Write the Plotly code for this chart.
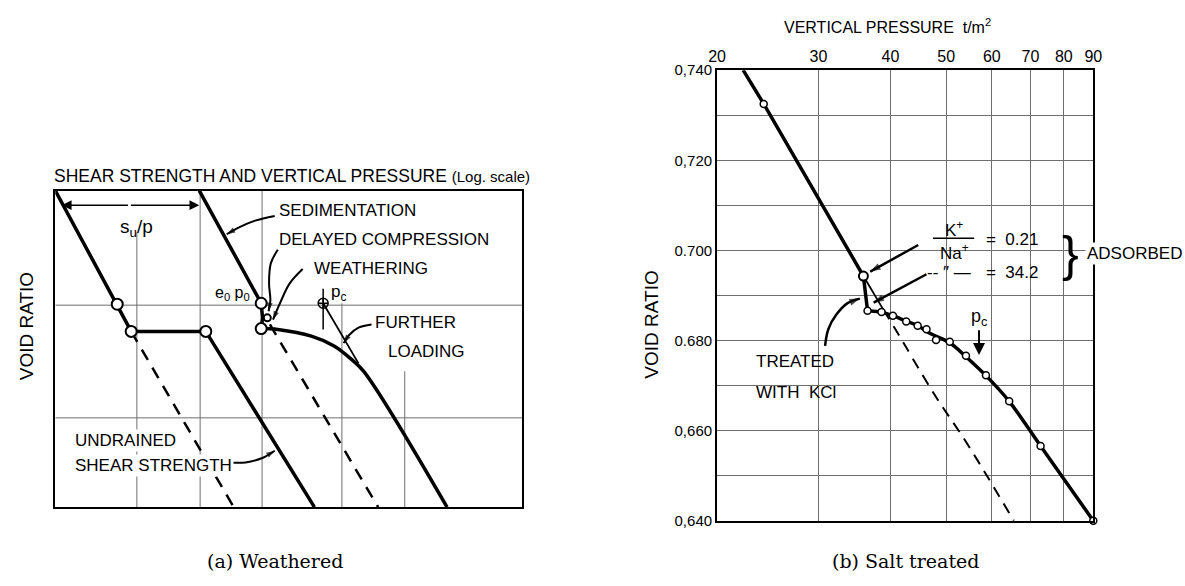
import numpy as np
import plotly.graph_objects as go

# ---------------- (a) Weathered : schematic void ratio vs log pressure ----------------
# arbitrary units: x 0..XMAX (log pressure / strength), y 0..100 (void ratio)
XMAX = 107.0

# undrained shear strength line (left solid) with its plateau
su_x = [0, 14.2, 17.4, 34.5, 59.4]
su_y = [100, 64.1, 55.5, 55.5, 0]
su_pts_x = [14.2, 17.4, 34.5]
su_pts_y = [64.1, 55.5, 55.5]
su_dash_x = [17.4, 40.9]
su_dash_y = [55.5, 0]

# sedimentation / compression line
sed_x = [33.0, 47.2, 47.5, 47.2]
sed_y = [100, 64.4, 59.8, 56.4]
load_x = [47.2, 51.0, 58.7, 63.9, 67.7, 70.7, 89.8]
load_y = [56.4, 56.1, 54.0, 50.9, 46.9, 42.9, 0]
sed_pts_x = [47.2, 47.2]
sed_pts_y = [64.4, 56.4]
wea_pt_x, wea_pt_y = [48.6], [59.8]
sed_dash_x = [49.2, 74.0]
sed_dash_y = [57.7, 0]

# preconsolidation pressure and further loading tangent
pc_x, pc_y = [61.4], [64.4]
fl_x = [61.4, 69.5]
fl_y = [64.4, 45.4]

# light grid of the sketch
grid_h = [63.8, 28.2]
grid_v = [(18.7, 0, 86.8), (33.2, 0, 100), (47.4, 0, 100), (65.7, 0, 64.4), (80.1, 0, 42.9)]
pc_tick = (61.4, 56.1, 69.0)

# leader curves (label -> mark)
lead_sed = ([50.3, 45.8, 42.0, 39.3], [92.0, 90.5, 88.3, 86.2])
lead_del = ([51.0, 49.4, 49.0, 49.3, 48.9], [81.3, 77.0, 70.6, 65.3, 61.9])
lead_wea = ([56.7, 53.7, 51.5, 49.9], [75.2, 70.6, 64.4, 59.2])
lead_fl = ([72.5, 69.5, 67.3, 66.1], [57.7, 56.7, 54.3, 51.8])
lead_und = ([39.6, 43.6, 47.6, 50.3], [14.1, 14.1, 15.6, 17.8])

# ---------------- (b) Salt treated : measured curve ----------------
p_ticks = [20, 30, 40, 50, 60, 70, 80, 90]
e_ticks = [0.640, 0.660, 0.680, 0.700, 0.720, 0.740]
e_ticktext = ["0,640", "0,660", "0.680", "0.700", "0,720", "0,740"]
e_minor = [0.650, 0.670, 0.690, 0.710, 0.730]

virgin_p = [22.2, 24.1, 35.9, 36.5, 38.6]
virgin_e = [0.740, 0.7325, 0.6943, 0.6866, 0.6863]
curve_p = [38.6, 40.4, 42.6, 44.6, 47.0, 50.7, 54.1, 58.6, 64.3, 72.9, 90.0]
curve_e = [0.6863, 0.6855, 0.6843, 0.6833, 0.6815, 0.6795, 0.6764, 0.6722, 0.6665, 0.6566, 0.640]
pts_p = [24.1, 36.5, 38.6, 40.4, 42.6, 44.6, 46.2, 48.0, 50.7, 54.1, 58.6, 64.3, 72.9, 90.0]
pts_e = [0.7325, 0.6866, 0.6863, 0.6855, 0.6842, 0.6833, 0.6825, 0.6801, 0.6797, 0.6766, 0.6723,
         0.6665, 0.6566, 0.640]
top_pt_p, top_pt_e = [35.9], [0.6943]
ext_p = [35.9, 38.9]
ext_e = [0.6943, 0.6868]
ext_dash_p = [38.9, 40.8, 47.7, 54.3, 65.5]
ext_dash_e = [0.6868, 0.6825, 0.668, 0.6572, 0.640]

lead_k1 = ([44.7, 36.9], [0.7012, 0.6953])
lead_k2 = ([46.2, 37.4], [0.6947, 0.6884])
lead_kcl = ([30.8, 31.2, 32.2, 33.7, 35.4], [0.6788, 0.6825, 0.6857, 0.6883, 0.6893])
frac_p = [47.4, 55.9]
frac_e = [0.7027, 0.7027]

# blank areas of the grid kept clear for lettering (pressure, void ratio corners)
clear_labels = ((40.6, 0.6915), (90.0, 0.7085))
clear_kcl = ((21.6, 0.6635), (34.3, 0.6790))

INK = "black"
GRID = "#6e6e6e"
SANS = "Liberation Sans, Arial, sans-serif"
SERIF = "DejaVu Serif, serif"

fig = go.Figure()


def line(x, y, xa, ya, width=3.5, dash="solid", shape="linear", color=INK):
    fig.add_trace(go.Scatter(x=x, y=y, mode="lines", xaxis=xa, yaxis=ya,
                             line=dict(color=color, width=width, dash=dash, shape=shape),
                             hoverinfo="skip", showlegend=False))


def circles(x, y, xa, ya, size=10, lw=2):
    fig.add_trace(go.Scatter(x=x, y=y, mode="markers", xaxis=xa, yaxis=ya,
                             marker=dict(symbol="circle", size=size, color="white",
                                         line=dict(color=INK, width=lw)),
                             hoverinfo="skip", showlegend=False, cliponaxis=False))


def leader(xy, xa, ya, width=2, head=9):
    x, y = xy
    sizes = [0] * (len(x) - 1) + [head]
    fig.add_trace(go.Scatter(x=x, y=y, mode="lines+markers", xaxis=xa, yaxis=ya,
                             line=dict(color=INK, width=width, shape="spline"),
                             marker=dict(symbol="arrow", angleref="previous", size=sizes,
                                         color=INK, line=dict(width=0)),
                             hoverinfo="skip", showlegend=False, cliponaxis=False))


# ---- panel (a) grid
for gy in grid_h:
    line([0, XMAX], [gy, gy], "x", "y", width=1, color=GRID)
for gx, g0, g1 in grid_v:
    line([gx, gx], [g0, g1], "x", "y", width=1, color=GRID)
line([pc_tick[0]] * 2, [pc_tick[1], pc_tick[2]], "x", "y", width=1.5)

# ---- panel (a) curves
line(su_x, su_y, "x", "y", width=3.5)
line(su_dash_x, su_dash_y, "x", "y", width=2.5, dash="12px,9px")
line(sed_x, sed_y, "x", "y", width=3.5)
line(load_x, load_y, "x", "y", width=3.5, shape="spline")
line(sed_dash_x, sed_dash_y, "x", "y", width=2.5, dash="12px,9px")
line(fl_x, fl_y, "x", "y", width=1.8)
circles(su_pts_x, su_pts_y, "x", "y", size=11)
circles(sed_pts_x, sed_pts_y, "x", "y", size=11)
circles(wea_pt_x, wea_pt_y, "x", "y", size=7)
fig.add_trace(go.Scatter(x=pc_x, y=pc_y, mode="markers", xaxis="x", yaxis="y",
                         marker=dict(symbol="circle-cross-open", size=10, color=INK,
                                     line=dict(width=1.5)),
                         hoverinfo="skip", showlegend=False))
for lead in (lead_sed, lead_del, lead_wea, lead_fl, lead_und):
    leader(lead, "x", "y")

# ---- panel (b) curves
line(ext_p, ext_e, "x2", "y2", width=1.8)
line(ext_dash_p, ext_dash_e, "x2", "y2", width=2, dash="11px,8px", shape="spline")
line(virgin_p, virgin_e, "x2", "y2", width=3.5)
line(curve_p, curve_e, "x2", "y2", width=3.5, shape="spline")
circles(pts_p, pts_e, "x2", "y2", size=7, lw=1.5)
circles(top_pt_p, top_pt_e, "x2", "y2", size=9, lw=2)
line(frac_p, frac_e, "x2", "y2", width=1.5)
for lead in (lead_k1, lead_k2):
    leader(lead, "x2", "y2", width=2.5, head=11)
leader(lead_kcl, "x2", "y2", width=2.5, head=11)

# white patches between grid and traces where lettering sits
shapes = []
for (p0, e0), (p1, e1) in (clear_labels, clear_kcl):
    shapes.append(dict(type="rect", xref="x2", yref="y2", layer="between",
                       x0=np.log10(p0), x1=np.log10(p1), y0=e0, y1=e1,
                       fillcolor="white", line=dict(width=0)))

ann = []


def text(t, x, y, xref, yref, size=17, xanchor="left", font=SANS, **kw):
    ann.append(dict(text=t, x=x, y=y, xref=xref, yref=yref, showarrow=False,
                    xanchor=xanchor, yanchor="middle",
                    font=dict(family=font, size=size, color=INK), **kw))


# s_u / p double arrow
for tip, tail in ((1.5, 17), (33.0, 17)):
    ann.append(dict(x=tip, y=95.4, ax=tail, ay=95.4, xref="x", yref="y", axref="x", ayref="y",
                    text="", showarrow=True, arrowhead=2, arrowsize=1.3, arrowwidth=1.5,
                    arrowcolor=INK))

# pc arrow in (b)
ann.append(dict(x=np.log10(57.0), y=0.6768, ax=np.log10(57.0), ay=0.6826, xref="x2", yref="y2",
                axref="x2", ayref="y2", text="", showarrow=True, arrowhead=2, arrowsize=1.2,
                arrowwidth=2, arrowcolor=INK))

# labels (a)
text("SHEAR STRENGTH AND VERTICAL PRESSURE <span style='font-size:15px'>(Log. scale)</span>",
     44 / 1185, 1 - 172 / 586, "paper", "paper", size=17.5)
text("s<sub>u</sub>/p", 18.7, 88.3, "x", "y", size=19, xanchor="center")
text("SEDIMENTATION", 50.8, 93.6, "x", "y")
text("DELAYED COMPRESSION", 50.8, 84.7, "x", "y")
text("WEATHERING", 58.9, 75.5, "x", "y")
text("e<sub>0</sub> p<sub>0</sub>", 45.0, 67.5, "x", "y", size=16, xanchor="right")
text("p<sub>c</sub>", 62.8, 67.8, "x", "y", size=17)
text("FURTHER", 72.9, 58.3, "x", "y")
text("LOADING", 75.8, 49.1, "x", "y")
text("UNDRAINED", 4.1, 20.9, "x", "y", bgcolor="white")
text("SHEAR STRENGTH", 4.1, 13.2, "x", "y", bgcolor="white")
text("VOID RATIO", 18 / 1185, 1 - 327 / 586, "paper", "paper", size=19, xanchor="center",
     textangle=-90)
text("(a) Weathered", 270 / 1185, 1 - 568 / 586, "paper", "paper",
     size=19, xanchor="center", font=SERIF)

# labels (b)
text("VERTICAL PRESSURE  t/m<sup>2</sup>", 785 / 1185, 1 - 17 / 586, "paper", "paper", size=16)
text("VOID RATIO", 652 / 1185, 1 - 325 / 586, "paper", "paper", size=19, xanchor="center",
     textangle=-90)
text("K<sup>+</sup>", np.log10(51.6), 0.7048, "x2", "y2", xanchor="center")
text("Na<sup>+</sup>", np.log10(51.6), 0.6996, "x2", "y2", xanchor="center")
text("=  0.21", np.log10(58.1), 0.7024, "x2", "y2")
text("-- \u2033 \u2014", np.log10(50.6), 0.6950, "x2", "y2", xanchor="center")
text("=  34.2", np.log10(58.1), 0.6950, "x2", "y2")
text("}", 1078 / 1185, 1 - 252 / 586, "paper", "paper", size=50, xanchor="center")
text("ADSORBED", 1093 / 1185, 1 - 252 / 586, "paper", "paper", bgcolor="white")
text("TREATED", np.log10(23.2), 0.6753, "x2", "y2")
text("WITH  KCl", np.log10(23.2), 0.6685, "x2", "y2")
text("p<sub>c</sub>", np.log10(57.0), 0.6852, "x2", "y2", xanchor="center", size=18)
text("(b) Salt treated", 910 / 1185, 1 - 568 / 586, "paper", "paper", size=19,
     xanchor="center", font=SERIF)

axis_common = dict(showline=True, mirror=True, linecolor=INK, linewidth=2, zeroline=False,
                   fixedrange=True)

fig.update_layout(
    width=1185, height=586, margin=dict(l=0, r=0, t=0, b=0),
    paper_bgcolor="white", plot_bgcolor="white", showlegend=False,
    annotations=ann, shapes=shapes,
    xaxis=dict(domain=[47 / 1185, (47 + XMAX * 4.43) / 1185], range=[0, XMAX],
               showticklabels=False, showgrid=False, ticks="", **axis_common),
    yaxis=dict(domain=[1 - 513 / 586, 1 - 187 / 586], range=[0, 100],
               showticklabels=False, showgrid=False, ticks="", **axis_common),
    xaxis2=dict(domain=[719 / 1185, 1101 / 1185], type="log",
                range=[np.log10(20), np.log10(90)], side="top", anchor="y2",
                tickvals=p_ticks, ticktext=[str(v) for v in p_ticks], ticks="",
                showgrid=True, gridcolor=GRID, gridwidth=1,
                tickfont=dict(family=SANS, size=16, color=INK), **axis_common),
    yaxis2=dict(domain=[1 - 527 / 586, 1 - 63 / 586], range=[0.640, 0.740], anchor="x2",
                tickvals=e_ticks, ticktext=e_ticktext, ticks="",
                showgrid=True, gridcolor=GRID, gridwidth=1,
                minor=dict(tickvals=e_minor, showgrid=True, gridcolor=GRID, gridwidth=1),
                tickfont=dict(family=SANS, size=15, color=INK), **axis_common),
)

fig.write_html("out.html")
